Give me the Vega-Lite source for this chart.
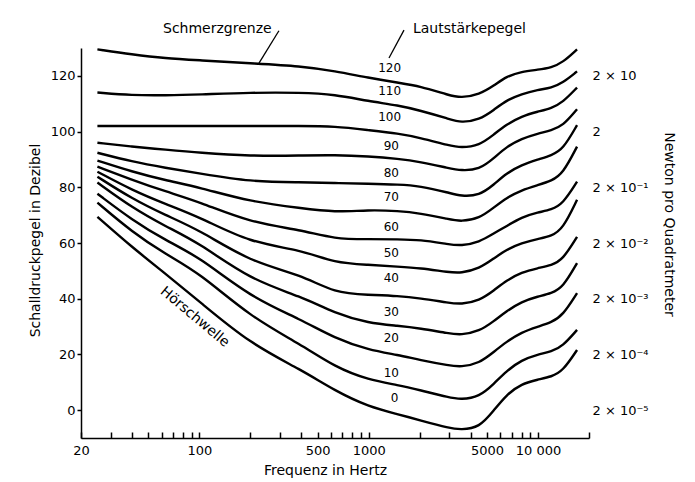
{
"$schema": "https://vega.github.io/schema/vega-lite/v6.json",
"width": 508, "height": 390,
"autosize": {"type": "none"},
"padding": {"left": 81, "top": 48, "right": 106, "bottom": 44},
"background": "white",
"config": {"view": {"stroke": null}, "font": "DejaVu Sans",
  "axis": {"grid": false, "domainColor": "black", "tickColor": "black", "labelColor": "black", "titleColor": "black", "labelFont": "DejaVu Sans", "titleFont": "DejaVu Sans", "labelFontSize": 13, "titleFontSize": 14, "titleFontWeight": "normal", "domainWidth": 1.5, "tickWidth": 1.5}},
"datasets": {
"curves": [
{"p":120,"f":25,"db":129.5},{"p":120,"f":40,"db":127.7},{"p":120,"f":63,"db":126.3},{"p":120,"f":100,"db":125.6},{"p":120,"f":200,"db":124.5},{"p":120,"f":400,"db":123.5},{"p":120,"f":630,"db":121.7},{"p":120,"f":1000,"db":119.3},{"p":120,"f":1500,"db":117.5},{"p":120,"f":2000,"db":116.3},{"p":120,"f":3000,"db":113},{"p":120,"f":3500,"db":112.1},{"p":120,"f":4500,"db":113.3},{"p":120,"f":5500,"db":116.5},{"p":120,"f":6500,"db":119.8},{"p":120,"f":8000,"db":121.5},{"p":120,"f":10000,"db":122.2},{"p":120,"f":12000,"db":123},{"p":120,"f":14000,"db":124.8},{"p":120,"f":17000,"db":129.5},
{"p":110,"f":25,"db":114},{"p":110,"f":40,"db":113},{"p":110,"f":63,"db":113},{"p":110,"f":100,"db":113.3},{"p":110,"f":200,"db":114},{"p":110,"f":400,"db":114},{"p":110,"f":630,"db":113.3},{"p":110,"f":1000,"db":110.9},{"p":110,"f":1500,"db":109.4},{"p":110,"f":2000,"db":107.6},{"p":110,"f":3000,"db":104.5},{"p":110,"f":3500,"db":103.2},{"p":110,"f":4500,"db":104.2},{"p":110,"f":5500,"db":107.8},{"p":110,"f":6500,"db":111.2},{"p":110,"f":8000,"db":113.5},{"p":110,"f":10000,"db":115},{"p":110,"f":12000,"db":115.7},{"p":110,"f":14000,"db":117.5},{"p":110,"f":17000,"db":121.6},
{"p":100,"f":25,"db":102},{"p":100,"f":40,"db":102},{"p":100,"f":63,"db":102},{"p":100,"f":100,"db":102},{"p":100,"f":200,"db":102},{"p":100,"f":400,"db":102},{"p":100,"f":630,"db":101.9},{"p":100,"f":1000,"db":100.5},{"p":100,"f":1500,"db":99.3},{"p":100,"f":2000,"db":97.8},{"p":100,"f":3000,"db":95},{"p":100,"f":3500,"db":94.2},{"p":100,"f":4500,"db":95},{"p":100,"f":5500,"db":99},{"p":100,"f":6500,"db":102.5},{"p":100,"f":8000,"db":105.5},{"p":100,"f":10000,"db":107.2},{"p":100,"f":12000,"db":108.4},{"p":100,"f":14000,"db":110.5},{"p":100,"f":17000,"db":115.8},
{"p":90,"f":25,"db":96},{"p":90,"f":40,"db":94.6},{"p":90,"f":63,"db":93.5},{"p":90,"f":100,"db":92.4},{"p":90,"f":200,"db":91.2},{"p":90,"f":400,"db":91.4},{"p":90,"f":630,"db":91.6},{"p":90,"f":1000,"db":91.1},{"p":90,"f":1500,"db":90.2},{"p":90,"f":2000,"db":89.2},{"p":90,"f":3000,"db":86.8},{"p":90,"f":3500,"db":86},{"p":90,"f":4500,"db":86.3},{"p":90,"f":5500,"db":90.5},{"p":90,"f":6500,"db":94.5},{"p":90,"f":8000,"db":97.5},{"p":90,"f":10000,"db":99.3},{"p":90,"f":12000,"db":100.5},{"p":90,"f":14000,"db":102},{"p":90,"f":17000,"db":108},
{"p":80,"f":25,"db":92.4},{"p":80,"f":40,"db":89.2},{"p":80,"f":63,"db":87},{"p":80,"f":100,"db":85},{"p":80,"f":200,"db":82},{"p":80,"f":400,"db":81.8},{"p":80,"f":630,"db":81.5},{"p":80,"f":1000,"db":81.3},{"p":80,"f":1500,"db":81},{"p":80,"f":2000,"db":80.5},{"p":80,"f":3000,"db":78},{"p":80,"f":3500,"db":76.8},{"p":80,"f":4500,"db":77},{"p":80,"f":5500,"db":81},{"p":80,"f":6500,"db":85},{"p":80,"f":8000,"db":88},{"p":80,"f":10000,"db":90},{"p":80,"f":12000,"db":91.5},{"p":80,"f":14000,"db":93.5},{"p":80,"f":17000,"db":102.3},
{"p":70,"f":25,"db":89.6},{"p":70,"f":40,"db":85.6},{"p":70,"f":63,"db":82.5},{"p":70,"f":100,"db":80},{"p":70,"f":200,"db":74.8},{"p":70,"f":400,"db":72.5},{"p":70,"f":630,"db":71},{"p":70,"f":1000,"db":71.9},{"p":70,"f":1500,"db":71.5},{"p":70,"f":2000,"db":70.7},{"p":70,"f":3000,"db":68.5},{"p":70,"f":3500,"db":67.7},{"p":70,"f":4500,"db":68.8},{"p":70,"f":5500,"db":72.8},{"p":70,"f":6500,"db":76.2},{"p":70,"f":8000,"db":79},{"p":70,"f":10000,"db":80.8},{"p":70,"f":12000,"db":82.3},{"p":70,"f":14000,"db":84.8},{"p":70,"f":17000,"db":94.6},
{"p":60,"f":25,"db":87.4},{"p":60,"f":40,"db":82.7},{"p":60,"f":63,"db":78.5},{"p":60,"f":100,"db":74.8},{"p":60,"f":200,"db":67.3},{"p":60,"f":400,"db":64.7},{"p":60,"f":630,"db":61.4},{"p":60,"f":1000,"db":61.4},{"p":60,"f":1500,"db":61.3},{"p":60,"f":2000,"db":61.2},{"p":60,"f":3000,"db":59.5},{"p":60,"f":3500,"db":59},{"p":60,"f":4500,"db":60.3},{"p":60,"f":5500,"db":63.5},{"p":60,"f":6500,"db":66},{"p":60,"f":8000,"db":69.3},{"p":60,"f":10000,"db":71},{"p":60,"f":12000,"db":72},{"p":60,"f":14000,"db":74},{"p":60,"f":17000,"db":82},
{"p":50,"f":25,"db":85.6},{"p":50,"f":40,"db":79},{"p":50,"f":63,"db":74},{"p":50,"f":100,"db":69.4},{"p":50,"f":200,"db":60},{"p":50,"f":400,"db":57.6},{"p":50,"f":630,"db":52.8},{"p":50,"f":1000,"db":52.2},{"p":50,"f":1500,"db":51.5},{"p":50,"f":2000,"db":51},{"p":50,"f":3000,"db":49.5},{"p":50,"f":3500,"db":49.2},{"p":50,"f":4500,"db":50.8},{"p":50,"f":5500,"db":54.5},{"p":50,"f":6500,"db":57.6},{"p":50,"f":8000,"db":60},{"p":50,"f":10000,"db":61.5},{"p":50,"f":12000,"db":62.5},{"p":50,"f":14000,"db":65},{"p":50,"f":17000,"db":75.5},
{"p":40,"f":25,"db":83.8},{"p":40,"f":40,"db":75.9},{"p":40,"f":63,"db":70},{"p":40,"f":100,"db":64.7},{"p":40,"f":200,"db":53.2},{"p":40,"f":400,"db":48.6},{"p":40,"f":630,"db":42},{"p":40,"f":1000,"db":41.4},{"p":40,"f":1500,"db":41},{"p":40,"f":2000,"db":40.2},{"p":40,"f":3000,"db":38.5},{"p":40,"f":3500,"db":38},{"p":40,"f":4500,"db":39.3},{"p":40,"f":5500,"db":43},{"p":40,"f":6500,"db":46.5},{"p":40,"f":8000,"db":49.5},{"p":40,"f":10000,"db":51},{"p":40,"f":12000,"db":52},{"p":40,"f":14000,"db":54},{"p":40,"f":17000,"db":62.2},
{"p":30,"f":25,"db":81.7},{"p":30,"f":40,"db":72.7},{"p":30,"f":63,"db":66},{"p":30,"f":100,"db":60},{"p":30,"f":200,"db":46.8},{"p":30,"f":400,"db":40.8},{"p":30,"f":630,"db":34.8},{"p":30,"f":1000,"db":31.2},{"p":30,"f":1500,"db":30.3},{"p":30,"f":2000,"db":29.4},{"p":30,"f":3000,"db":27.5},{"p":30,"f":3500,"db":27},{"p":30,"f":4500,"db":28.3},{"p":30,"f":5500,"db":32},{"p":30,"f":6500,"db":35.5},{"p":30,"f":8000,"db":39},{"p":30,"f":10000,"db":40.8},{"p":30,"f":12000,"db":42},{"p":30,"f":14000,"db":44},{"p":30,"f":17000,"db":52.8},
{"p":20,"f":25,"db":77.7},{"p":20,"f":40,"db":68.3},{"p":20,"f":63,"db":61},{"p":20,"f":100,"db":55},{"p":20,"f":200,"db":40.6},{"p":20,"f":400,"db":32.5},{"p":20,"f":630,"db":25.8},{"p":20,"f":1000,"db":21.6},{"p":20,"f":1500,"db":19.8},{"p":20,"f":2000,"db":18},{"p":20,"f":3000,"db":16},{"p":20,"f":3500,"db":15.5},{"p":20,"f":4500,"db":16.8},{"p":20,"f":5500,"db":21},{"p":20,"f":6500,"db":24.5},{"p":20,"f":8000,"db":28},{"p":20,"f":10000,"db":30},{"p":20,"f":12000,"db":31.5},{"p":20,"f":14000,"db":34},{"p":20,"f":17000,"db":42},
{"p":10,"f":25,"db":74.5},{"p":10,"f":40,"db":64},{"p":10,"f":63,"db":56},{"p":10,"f":100,"db":49.3},{"p":10,"f":200,"db":33.5},{"p":10,"f":400,"db":23.5},{"p":10,"f":630,"db":15.5},{"p":10,"f":1000,"db":10.8},{"p":10,"f":1500,"db":9},{"p":10,"f":2000,"db":7.2},{"p":10,"f":3000,"db":4.5},{"p":10,"f":3500,"db":3.8},{"p":10,"f":4500,"db":4.8},{"p":10,"f":5500,"db":9.5},{"p":10,"f":6500,"db":14},{"p":10,"f":8000,"db":18},{"p":10,"f":10000,"db":20},{"p":10,"f":12000,"db":21},{"p":10,"f":14000,"db":23},{"p":10,"f":17000,"db":28.8},
{"p":0,"f":25,"db":69.4},{"p":0,"f":40,"db":58.5},{"p":0,"f":63,"db":49},{"p":0,"f":100,"db":39},{"p":0,"f":200,"db":23.8},{"p":0,"f":400,"db":14.5},{"p":0,"f":630,"db":7},{"p":0,"f":1000,"db":1.2},{"p":0,"f":1500,"db":-1.5},{"p":0,"f":2000,"db":-3.6},{"p":0,"f":3000,"db":-6.5},{"p":0,"f":3500,"db":-7},{"p":0,"f":4500,"db":-6.3},{"p":0,"f":5500,"db":0},{"p":0,"f":6500,"db":5.5},{"p":0,"f":8000,"db":9.5},{"p":0,"f":10000,"db":11},{"p":0,"f":12000,"db":12},{"p":0,"f":14000,"db":14},{"p":0,"f":17000,"db":21.6}
],
"labels": [
{"f":1330,"db":122.8,"t":"120"},{"f":1330,"db":114.6,"t":"110"},{"f":1330,"db":105.2,"t":"100"},{"f":1360,"db":94.8,"t":"90"},{"f":1360,"db":85.1,"t":"80"},{"f":1360,"db":76.5,"t":"70"},{"f":1360,"db":65.7,"t":"60"},{"f":1360,"db":56.4,"t":"50"},{"f":1360,"db":47.4,"t":"40"},{"f":1360,"db":35.2,"t":"30"},{"f":1360,"db":25.9,"t":"20"},{"f":1360,"db":13.3,"t":"10"},{"f":1420,"db":4.4,"t":"0"}
],
"notes": [
{"f":61,"db":136.8,"t":"Schmerzgrenze"},{"f":1826,"db":136.8,"t":"Lautstärkepegel"}
],
"notes2": [
{"f":94,"db":33.4,"t":"Hörschwelle"}
],
"pointers": [
{"f1":295,"d1":136.2,"f2":225,"d2":124.6},{"f1":1616,"d1":136.4,"f2":1318,"d2":126.4}
]
},
"layer": [
{"data": {"name": "curves"},
 "mark": {"type": "line", "interpolate": "basis", "color": "black", "strokeWidth": 2.4},
 "encoding": {
  "x": {"field": "f", "type": "quantitative", "scale": {"type": "log", "domain": [20, 20000], "nice": false},
   "axis": {"values": [20,30,40,50,60,70,80,90,100,200,300,400,500,600,700,800,900,1000,2000,3000,4000,5000,6000,7000,8000,9000,10000,20000],
    "labelExpr": "datum.value == 10000 ? '10 000' : ((datum.value == 20 || datum.value == 100 || datum.value == 500 || datum.value == 1000 || datum.value == 5000) ? '' + datum.value : '')",
    "tickSize": -6, "labelPadding": 12, "labelOverlap": false, "labelFlush": false,
    "title": "Frequenz in Hertz", "titleX": 244, "titleY": 32, "titleBaseline": "middle", "titleAlign": "center"}},
  "y": {"field": "db", "type": "quantitative", "scale": {"domain": [-10, 130], "nice": false, "zero": false},
   "axis": {"orient": "left", "values": [0,20,40,60,80,100,120], "tickSize": 4, "labelPadding": 2,
    "title": "Schalldruckpegel in Dezibel", "titleX": -46, "titleY": 192, "titleBaseline": "middle", "titleAlign": "center", "titleAngle": -90}},
  "detail": {"field": "p", "type": "nominal"}
 }},
{"data": {"name": "labels"},
 "mark": {"type": "text", "fontSize": 12, "font": "DejaVu Sans", "color": "black"},
 "encoding": {
  "x": {"field": "f", "type": "quantitative", "axis": null},
  "y": {"field": "db", "type": "quantitative",
   "axis": {"orient": "right", "values": [0,20,40,60,80,100,120], "domain": false, "ticks": false, "labelPadding": 3, "labelAlign": "left",
    "labelExpr": "datum.value == 120 ? '2 × 10' : datum.value == 100 ? '2' : datum.value == 80 ? '2 × 10⁻¹' : datum.value == 60 ? '2 × 10⁻²' : datum.value == 40 ? '2 × 10⁻³' : datum.value == 20 ? '2 × 10⁻⁴' : '2 × 10⁻⁵'",
    "title": "Newton pro Quadratmeter", "titleAngle": 90, "titleX": 79, "titleY": 176, "titleBaseline": "middle", "titleAlign": "center"}},
  "text": {"field": "t"}
 }},
{"data": {"name": "notes"},
 "mark": {"type": "text", "fontSize": 14, "font": "DejaVu Sans", "color": "black", "align": "left", "baseline": "middle"},
 "encoding": {
  "x": {"field": "f", "type": "quantitative", "axis": null},
  "y": {"field": "db", "type": "quantitative", "axis": null},
  "text": {"field": "t"}
 }},
{"data": {"name": "notes2"},
 "mark": {"type": "text", "fontSize": 14, "font": "DejaVu Sans", "color": "black", "angle": 40, "align": "center", "baseline": "middle"},
 "encoding": {
  "x": {"field": "f", "type": "quantitative", "axis": null},
  "y": {"field": "db", "type": "quantitative", "axis": null},
  "text": {"field": "t"}
 }},
{"data": {"name": "pointers"},
 "mark": {"type": "rule", "color": "black", "strokeWidth": 1.3},
 "encoding": {
  "x": {"field": "f1", "type": "quantitative", "axis": null},
  "y": {"field": "d1", "type": "quantitative", "axis": null},
  "x2": {"field": "f2"},
  "y2": {"field": "d2"}
 }}
],
"resolve": {"axis": {"x": "independent", "y": "independent"}}
}
